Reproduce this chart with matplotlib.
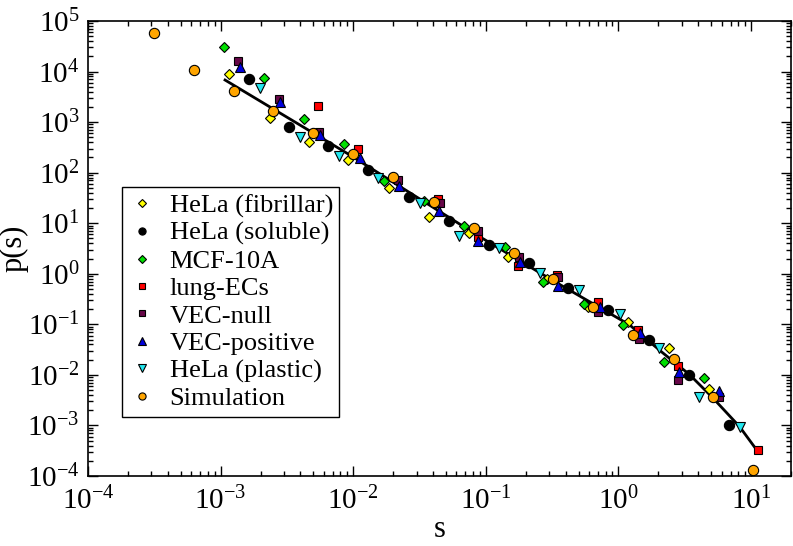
import matplotlib
matplotlib.use("Agg")
import matplotlib.pyplot as plt
from matplotlib.ticker import LogLocator, NullFormatter

plt.rcParams['font.family'] = ['Liberation Serif', 'DejaVu Serif']
plt.rcParams['mathtext.fontset'] = 'stix'

# HeLa (fibrillar)
fib_s = [1.16e-3, 2.35e-3, 4.6e-3, 9.1e-3, 1.85e-2, 3.7e-2, 7.4e-2, 0.146, 0.29, 0.59, 1.19, 2.39, 4.79]
fib_p = [9.0e3, 1.2e3, 4.1e2, 1.8e2, 50, 13.4, 6.5, 2.17, 0.80, 0.223, 0.112, 0.0345, 0.0053]

# HeLa (soluble)
sol_s = [1.63e-3, 3.27e-3, 6.5e-3, 1.29e-2, 2.62e-2, 5.25e-2, 0.105, 0.21, 0.42, 0.84, 1.69, 3.38, 6.76]
sol_p = [7.1e3, 800, 340, 114, 33, 11.1, 3.74, 1.65, 0.53, 0.194, 0.050, 0.0101, 1.04e-3]

# MCF-10A
mcf_s = [1.06e-3, 2.12e-3, 4.25e-3, 8.5e-3, 1.7e-2, 3.4e-2, 6.8e-2, 0.139, 0.269, 0.547, 1.09, 2.19, 4.39]
mcf_p = [3.06e4, 7.5e3, 1.16e3, 370, 69, 28, 8.9, 3.4, 0.70, 0.255, 0.098, 0.018, 0.0088]

# lung-ECs
lung_s = [5.4e-3, 1.08e-2, 4.35e-2, 8.7e-2, 0.174, 0.342, 0.70, 1.40, 2.79, 11.2]
lung_p = [2.1e3, 3.0e2, 30, 5.4, 1.44, 0.95, 0.28, 0.078, 0.0152, 3.2e-4]

# VEC-null
vnull_s = [1.35e-3, 2.75e-3, 5.5e-3, 2.17e-2, 4.5e-2, 8.8e-2, 0.177, 0.348, 0.70, 1.42, 2.79, 5.69]
vnull_p = [1.6e4, 2.9e3, 640, 72, 25, 7.1, 2.17, 0.87, 0.177, 0.052, 0.0080, 0.0037]

# VEC-positive
vpos_s = [1.40e-3, 2.8e-3, 5.6e-3, 1.12e-2, 2.2e-2, 4.4e-2, 8.8e-2, 0.18, 0.35, 0.72, 1.45, 2.85, 5.69]
vpos_p = [1.24e4, 2.5e3, 560, 195, 55, 17.6, 4.5, 1.73, 0.58, 0.223, 0.068, 0.0116, 0.0049]

# HeLa (plastic)
pla_s = [1.98e-3, 3.96e-3, 7.8e-3, 1.53e-2, 3.18e-2, 6.25e-2, 0.125, 0.255, 0.50, 1.02, 2.01, 4.02, 8.19]
pla_p = [4.7e3, 510, 215, 79, 25, 5.6, 3.27, 1.05, 0.48, 0.162, 0.0345, 0.0037, 9.5e-4]

# Simulation
sim_s = [3.14e-4, 6.3e-4, 1.26e-3, 2.5e-3, 5.0e-3, 1.0e-2, 2.0e-2, 4.05e-2, 8.1e-2, 0.162, 0.319, 0.64, 1.28, 2.61, 5.13, 10.3]
sim_p = [5.8e4, 1.07e4, 4.1e3, 1.66e3, 610, 236, 83, 26.5, 8.1, 2.6, 0.80, 0.223, 0.062, 0.021, 0.0037, 1.34e-4]

# fitted curve
fit_s = [1.08e-3, 9.4e-3, 9.0e-2, 0.303, 1.21, 2.15, 3.44, 5.13, 8.18, 11.0]
fit_p = [6.8e3, 225, 5.4, 0.80, 0.098, 0.0275, 0.0101, 3.54e-3, 9.5e-4, 3.3e-4]

fig = plt.figure(figsize=(7.93, 5.46), dpi=100)
ax = fig.add_axes([88/793, 70/546, 703/793, 455/546])

ax.plot(fit_s, fit_p, color='black', lw=2, zorder=2)

kw = dict(ls='none', mec='black', mew=0.8, zorder=3)
ax.plot(fib_s, fib_p, marker='D', ms=5.3, mfc='#ffff00', label='HeLa (fibrillar)', **kw)
ax.plot(sol_s, sol_p, marker='o', ms=7.4, mfc='black', label='HeLa (soluble)', **kw)
ax.plot(mcf_s, mcf_p, marker='D', ms=5.3, mfc='#00e000', label='MCF-10A', **kw)
ax.plot(lung_s, lung_p, marker='s', ms=6.3, mfc='#ff0000', label='lung-ECs', **kw)
ax.plot(vnull_s, vnull_p, marker='s', ms=6.3, mfc='#670748', label='VEC-null', **kw)
ax.plot(vpos_s, vpos_p, marker='^', ms=7.4, mfc='#0000dd', label='VEC-positive', **kw)
ax.plot(pla_s, pla_p, marker='v', ms=7.4, mfc='#22e8f0', label='HeLa (plastic)', **kw)
ax.plot(sim_s, sim_p, marker='o', ms=7.4, mfc='#ffa500', label='Simulation', **kw)

ax.set_xscale('log')
ax.set_yscale('log')
ax.set_xlim(1e-4, 20)
ax.set_ylim(1e-4, 1e5)

ax.xaxis.set_major_locator(LogLocator(base=10, numticks=20))
ax.yaxis.set_major_locator(LogLocator(base=10, numticks=20))
for a in (ax.xaxis, ax.yaxis):
    a.set_minor_locator(LogLocator(base=10, subs=range(2, 10), numticks=100))
    a.set_minor_formatter(NullFormatter())

ax.tick_params(which='both', direction='in', top=True, right=True, width=1)
ax.tick_params(which='major', length=7, labelsize=21)
ax.tick_params(which='minor', length=3.5)
ax.tick_params(axis='x', which='major', pad=8)
ax.tick_params(axis='y', which='major', pad=6)
for sp in ax.spines.values():
    sp.set_linewidth(1.2)

ax.set_xlabel('s', fontsize=22)
ax.set_ylabel('p(s)', fontsize=22)
ax.xaxis.set_label_coords(0.5, -0.085)
ax.yaxis.set_label_coords(-0.085, 0.5)

leg = ax.legend(loc='lower left', bbox_to_anchor=(0.0484, 0.1297), borderaxespad=0,
                fontsize=19, markerscale=0.7, handlelength=1.0, handletextpad=0.55,
                labelspacing=0.15, borderpad=0.25, fancybox=False, framealpha=1,
                edgecolor='black')
leg.get_frame().set_linewidth(1.0)

fig.savefig('out.png', dpi=100)
